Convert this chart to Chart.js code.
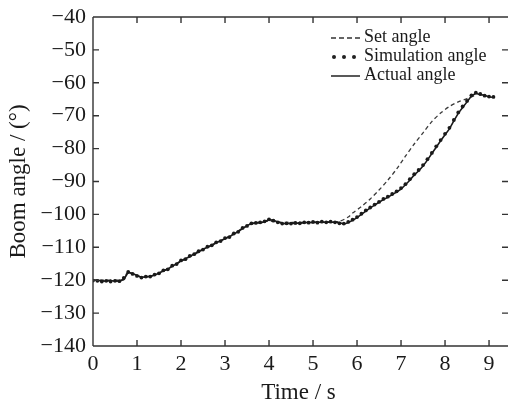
<!DOCTYPE html>
<html>
<head>
<meta charset="utf-8">
<script src="https://cdn.jsdelivr.net/npm/chart.js@4/dist/chart.umd.min.js"></script>
<style>
html,body{margin:0;padding:0;background:#fff;}
#wrap{width:508px;height:408px;}
</style>
</head>
<body>
<div id="wrap"><canvas id="c" width="508" height="408"></canvas></div>
<script>
// ---- data ----
const time = [0.0,0.1,0.2,0.3,0.4,0.5,0.6,0.7,0.8,0.9,1.0,1.1,1.2,1.3,1.4,1.5,1.6,1.7,1.8,1.9,
  2.0,2.1,2.2,2.3,2.4,2.5,2.6,2.7,2.8,2.9,3.0,3.1,3.2,3.3,3.4,3.5,3.6,3.7,3.8,3.9,
  4.0,4.1,4.2,4.3,4.4,4.5,4.6,4.7,4.8,4.9,5.0,5.1,5.2,5.3,5.4,5.5,5.6,5.7,5.8,5.9,
  6.0,6.1,6.2,6.3,6.4,6.5,6.6,6.7,6.8,6.9,7.0,7.1,7.2,7.3,7.4,7.5,7.6,7.7,7.8,7.9,
  8.0,8.1,8.2,8.3,8.4,8.5,8.6,8.7,8.8,8.9,9.0,9.1];
const actualAngle = [-120.0,-120.0,-120.2,-120.3,-120.1,-120.3,-120.2,-119.8,-117.6,-118.0,
  -118.6,-119.1,-119.0,-118.8,-118.5,-117.8,-117.2,-116.6,-115.8,-115.0,
  -114.1,-113.5,-112.8,-112.0,-111.3,-110.6,-110.0,-109.3,-108.6,-108.0,
  -107.4,-106.8,-106.0,-105.2,-104.3,-103.4,-102.8,-102.5,-102.6,-102.2,
  -101.6,-101.8,-102.3,-102.7,-102.9,-102.6,-102.8,-102.5,-102.6,-102.4,
  -102.5,-102.3,-102.4,-102.3,-102.4,-102.3,-102.5,-103.0,-102.5,-101.8,
  -101.0,-100.0,-99.0,-98.0,-97.2,-96.3,-95.5,-94.8,-94.0,-93.2,
  -92.3,-91.0,-89.6,-88.0,-86.8,-85.3,-83.5,-81.5,-79.6,-77.6,
  -75.8,-74.0,-71.6,-69.3,-67.5,-65.8,-64.0,-63.2,-63.6,-63.8,-64.3,-64.4];
const simulationAngle = [-120.1,-120.2,-120.4,-120.2,-120.4,-120.2,-120.3,-119.3,-117.5,-118.1,
  -118.7,-119.2,-118.9,-118.9,-118.3,-117.9,-117.0,-116.7,-115.6,-115.1,
  -114.0,-113.6,-112.6,-112.1,-111.2,-110.7,-109.8,-109.4,-108.5,-108.1,
  -107.2,-106.9,-105.8,-105.3,-104.1,-103.5,-102.7,-102.6,-102.4,-102.1,
  -101.5,-101.9,-102.4,-102.8,-102.7,-102.8,-102.6,-102.7,-102.4,-102.5,
  -102.3,-102.5,-102.2,-102.4,-102.2,-102.4,-102.7,-102.8,-102.3,-101.6,
  -100.8,-99.8,-98.8,-97.9,-97.0,-96.2,-95.3,-94.6,-93.8,-93.0,
  -92.0,-90.8,-89.3,-87.8,-86.5,-85.0,-83.2,-81.3,-79.3,-77.4,
  -75.5,-73.7,-71.3,-69.0,-67.2,-65.5,-63.8,-63.0,-63.4,-63.9,-64.2,-64.3];
const setTime = [0.0,0.6,0.7,0.78,0.9,1.1,1.3,1.5,2.0,2.5,3.0,3.5,3.7,4.0,4.3,4.8,5.3,5.6,5.8,5.9,
  6.1,6.3,6.5,6.7,6.9,7.1,7.3,7.5,7.7,7.9,8.1,8.3,8.5,8.7];
const setAngle = [-120.0,-120.0,-119.8,-117.7,-118.1,-119.0,-118.8,-117.8,-114.3,-110.8,-107.3,-103.5,-102.6,-102.0,-102.4,-102.4,-102.3,-102.1,-100.8,-99.6,
  -97.6,-95.3,-92.6,-89.6,-86.2,-82.3,-78.6,-75.2,-71.8,-69.2,-67.2,-65.8,-64.8,-63.8];
const xTicks = [0,1,2,3,4,5,6,7,8,9];
const yTicks = [-140,-130,-120,-110,-100,-90,-80,-70,-60,-50,-40];
const seriesLabels = ['Set angle','Simulation angle','Actual angle'];
const xTitle = 'Time / s';
const yTitle = 'Boom angle / (°)';

const toXY = (xs, ys) => xs.map((x, i) => ({x: x, y: ys[i]}));
const SERIF = "'Liberation Serif','DejaVu Serif',serif";
const INK = '#1a1a1a';

// frame with inward ticks; the right edge of the box sits at the picture edge
const framePlugin = {
  id: 'frame',
  afterDraw(chart) {
    const {ctx, chartArea: a, scales} = chart;
    const xs = scales.x, ys = scales.y;
    const R = chart.width;
    ctx.save();
    ctx.strokeStyle = '#333';
    ctx.lineWidth = 1.4;
    ctx.beginPath();
    ctx.moveTo(a.left, a.top); ctx.lineTo(R, a.top);
    ctx.moveTo(a.left, a.bottom); ctx.lineTo(R, a.bottom);
    ctx.moveTo(a.left, a.top); ctx.lineTo(a.left, a.bottom);
    const L = 6;
    xTicks.forEach(v => {
      const p = xs.getPixelForValue(v);
      ctx.moveTo(p, a.bottom); ctx.lineTo(p, a.bottom - L);
      ctx.moveTo(p, a.top); ctx.lineTo(p, a.top + L);
    });
    yTicks.forEach(v => {
      const p = ys.getPixelForValue(v);
      ctx.moveTo(a.left, p); ctx.lineTo(a.left + L, p);
      ctx.moveTo(R, p); ctx.lineTo(R - L, p);
    });
    ctx.stroke();
    ctx.restore();
  }
};

// legend drawn inside the plot area
const legendPlugin = {
  id: 'innerLegend',
  afterDraw(chart) {
    const {ctx} = chart;
    const x0 = 331, x1 = 360, tx = 364, y0 = 37, dy = 19;
    ctx.save();
    ctx.font = '18px ' + SERIF;
    ctx.fillStyle = INK;
    ctx.textBaseline = 'middle';
    ctx.textAlign = 'left';
    ctx.strokeStyle = '#333';
    ctx.lineWidth = 1.4;
    ctx.setLineDash([5, 3]);
    ctx.beginPath(); ctx.moveTo(x0, y0 + 1); ctx.lineTo(x1, y0 + 1); ctx.stroke();
    ctx.setLineDash([]);
    ctx.fillText(chart.data.datasets[0].label, tx, y0);
    [334, 344, 354].forEach(px => {
      ctx.beginPath(); ctx.arc(px, y0 + dy + 1, 2, 0, Math.PI * 2); ctx.fillStyle = '#222'; ctx.fill();
    });
    ctx.fillStyle = INK;
    ctx.fillText(chart.data.datasets[1].label, tx, y0 + dy);
    ctx.strokeStyle = '#222';
    ctx.lineWidth = 1.5;
    ctx.beginPath(); ctx.moveTo(x0, y0 + 2 * dy + 1); ctx.lineTo(x1, y0 + 2 * dy + 1); ctx.stroke();
    ctx.fillText(chart.data.datasets[2].label, tx, y0 + 2 * dy);
    ctx.restore();
  }
};

new Chart(document.getElementById('c'), {
  type: 'line',
  data: {
    datasets: [
      {label: seriesLabels[0], data: toXY(setTime, setAngle), borderColor: '#3a3a3a', borderWidth: 1.3,
       borderDash: [4, 3], pointRadius: 0, tension: 0.3, fill: false, order: 3},
      {label: seriesLabels[1], data: toXY(time, simulationAngle), showLine: false, pointRadius: 1.9,
       pointBackgroundColor: '#1a1a1a', pointBorderWidth: 0, borderColor: '#1a1a1a', order: 1},
      {label: seriesLabels[2], data: toXY(time, actualAngle), borderColor: '#1a1a1a', borderWidth: 1.6,
       pointRadius: 0, tension: 0, fill: false, order: 2}
    ]
  },
  options: {
    responsive: false,
    animation: false,
    layout: {padding: {top: 17, right: 0, left: 0, bottom: 0}},
    plugins: {legend: {display: false}, tooltip: {enabled: false}},
    scales: {
      x: {
        type: 'linear', min: 0, max: 9.34,
        afterBuildTicks: s => { s.ticks = xTicks.map(v => ({value: v})); },
        afterFit: s => { s.height = 62; s.paddingLeft = 0; s.paddingRight = 0; },
        grid: {display: false, drawTicks: false},
        border: {display: false},
        ticks: {padding: 5, color: INK, font: {family: SERIF, size: 22}, maxRotation: 0,
                callback: v => String(v)},
        title: {display: true, text: xTitle, color: INK, font: {family: SERIF, size: 23},
                padding: {top: 0, bottom: 1}}
      },
      y: {
        type: 'linear', min: -140, max: -40,
        afterBuildTicks: s => { s.ticks = yTicks.map(v => ({value: v})); },
        afterFit: s => { s.width = 93; s.paddingTop = 0; s.paddingBottom = 0; },
        grid: {display: false, drawTicks: false},
        border: {display: false},
        ticks: {padding: 7, color: INK, font: {family: SERIF, size: 22},
                callback: v => (v < 0 ? '\u2212' : '') + Math.abs(v)},
        title: {display: true, text: yTitle, color: INK, font: {family: SERIF, size: 23},
                padding: {top: 5, bottom: 0}}
      }
    }
  },
  plugins: [framePlugin, legendPlugin]
});
</script>
</body>
</html>
